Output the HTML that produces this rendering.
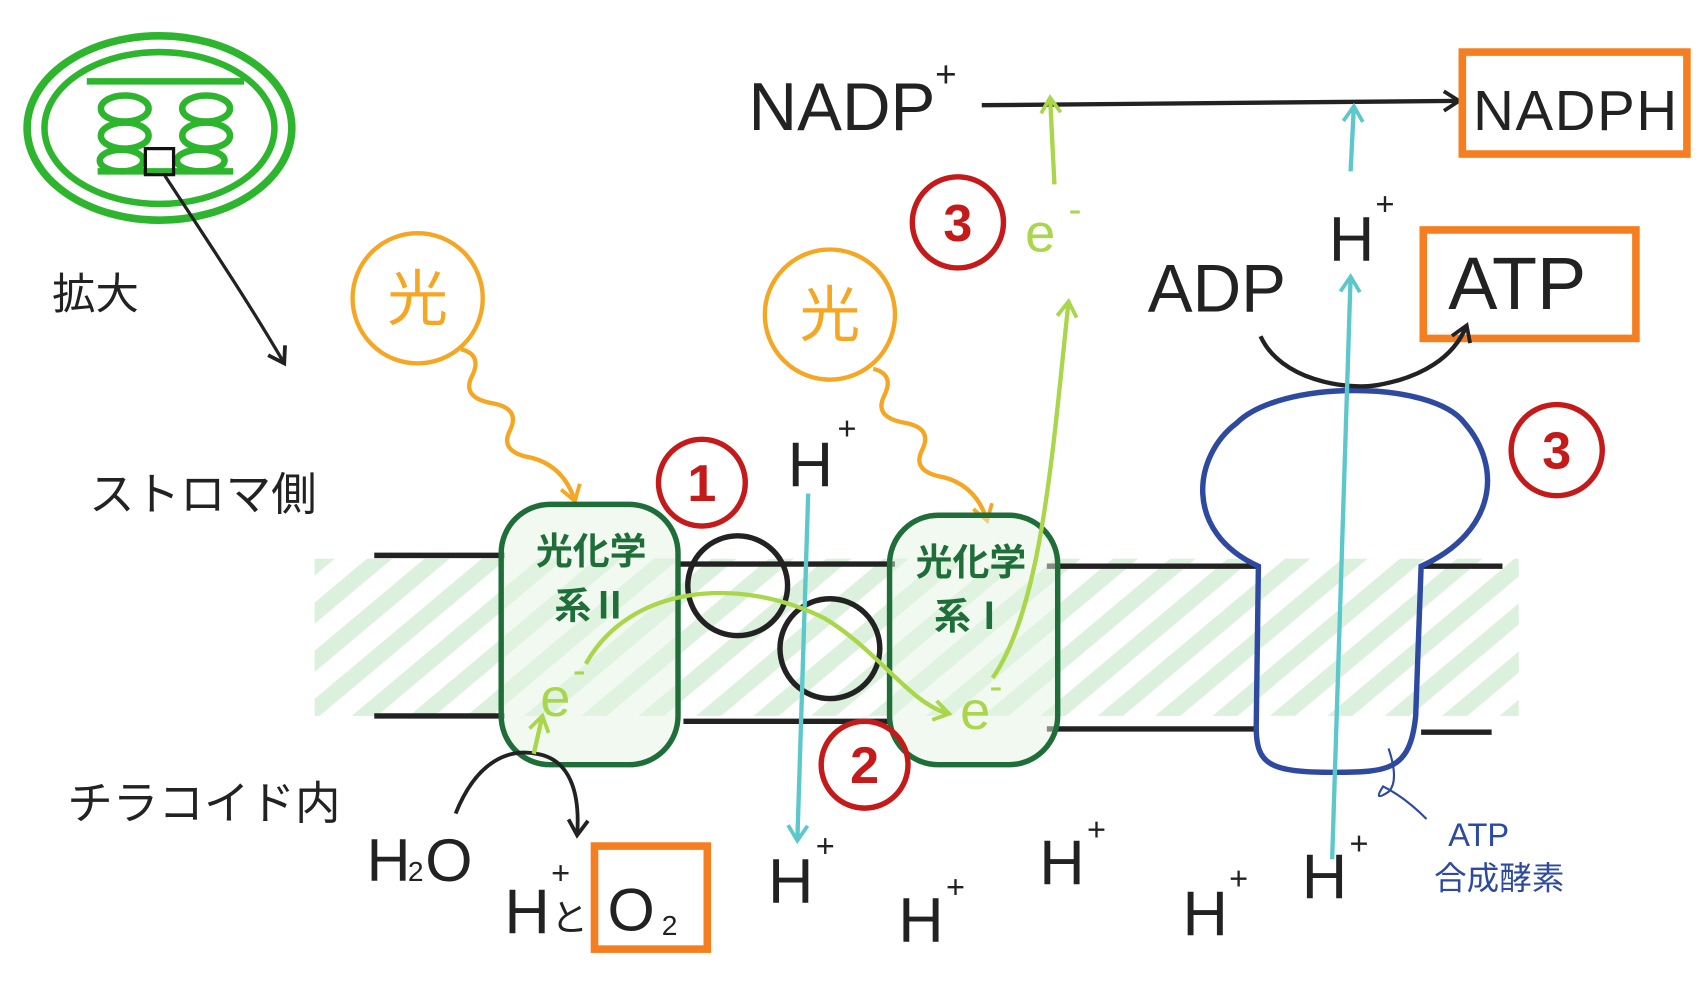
<!DOCTYPE html>
<html><head><meta charset="utf-8"><style>
html,body{margin:0;padding:0;background:#fff;}
svg{display:block}
text{font-family:"Liberation Sans","Noto Sans CJK JP",sans-serif;}
</style></head><body>
<svg width="1701" height="986" viewBox="0 0 1568 909" preserveAspectRatio="none" xmlns="http://www.w3.org/2000/svg">
<defs>
<pattern id="hat" width="34" height="34" patternUnits="userSpaceOnUse" patternTransform="rotate(-40)">
<rect width="34" height="15" fill="#cdebcf"/></pattern>
<marker id="ab" markerUnits="userSpaceOnUse" markerWidth="24" markerHeight="24" refX="18" refY="12" orient="auto"><path d="M4,3 L18,12 L4,21" fill="none" stroke="#222" stroke-width="3.5"/></marker>
<marker id="al" markerUnits="userSpaceOnUse" markerWidth="24" markerHeight="24" refX="18" refY="12" orient="auto"><path d="M4,3 L18,12 L4,21" fill="none" stroke="#a9d64a" stroke-width="3.5"/></marker>
<marker id="ac" markerUnits="userSpaceOnUse" markerWidth="24" markerHeight="24" refX="18" refY="12" orient="auto"><path d="M4,3 L18,12 L4,21" fill="none" stroke="#5cc8cc" stroke-width="3.5"/></marker>
<marker id="ao" markerUnits="userSpaceOnUse" markerWidth="24" markerHeight="24" refX="18" refY="12" orient="auto"><path d="M4,3 L18,12 L4,21" fill="none" stroke="#f5a623" stroke-width="3.5"/></marker>
</defs>
<ellipse cx="147" cy="118" rx="122" ry="85" fill="none" stroke="#2db52d" stroke-width="7"/>
<ellipse cx="147" cy="118" rx="106" ry="70" fill="none" stroke="#2db52d" stroke-width="6"/>
<path d="M80,75 H225 M90,158 H215" stroke="#2db52d" stroke-width="6"/>
<g fill="none" stroke="#2db52d" stroke-width="6">
<ellipse cx="115" cy="100" rx="22" ry="12"/><ellipse cx="115" cy="125" rx="22" ry="12"/><ellipse cx="190" cy="100" rx="22" ry="12"/><ellipse cx="190" cy="125" rx="22" ry="12"/><ellipse cx="185" cy="148" rx="22" ry="10"/><ellipse cx="112" cy="148" rx="20" ry="10"/></g>
<rect x="134" y="137" width="26" height="24" fill="none" stroke="#111" stroke-width="3"/>
<path d="M152,162 C190,220 230,280 262,335" fill="none" stroke="#222" stroke-width="3" marker-end="url(#ab)"/>
<text x="48" y="285" font-size="40" fill="#222">拡大</text>
<text x="82" y="470" font-size="42" fill="#222">ストロマ側</text>
<text x="62" y="755" font-size="42" fill="#222">チラコイド内</text>
<rect x="290" y="515" width="1110" height="145" fill="url(#hat)" opacity="0.7"/>
<g stroke="#222" stroke-width="5">
<path d="M345,512 H465 M625,520 H825 M965,522 H1160 M1310,522 H1385"/>
<path d="M345,660 H465 M630,665 H820 M965,672 H1160 M1310,675 H1375"/></g>
<circle cx="385" cy="275" r="60" fill="none" stroke="#f5a623" stroke-width="4"/>
<text x="385" y="295" font-size="56" fill="#f5a623" text-anchor="middle">光</text>
<circle cx="765" cy="290" r="60" fill="none" stroke="#f5a623" stroke-width="4"/>
<text x="765" y="310" font-size="56" fill="#f5a623" text-anchor="middle">光</text>
<path d="M425,322 q20,5 10,25 q-10,20 20,25 q25,5 15,25 q-10,20 20,25 q30,8 40,40" fill="none" stroke="#f5a623" stroke-width="4" marker-end="url(#ao)"/>
<path d="M805,340 q20,5 10,25 q-10,20 20,25 q25,5 15,25 q-10,20 20,25 q30,8 40,40" fill="none" stroke="#f5a623" stroke-width="4" marker-end="url(#ao)"/>
<rect x="462" y="465" width="163" height="240" rx="45" fill="#e3f3e4" fill-opacity="0.5" stroke="#1f6e3a" stroke-width="5"/>
<text x="545" y="520" font-size="34" fill="#1f6e3a" text-anchor="middle" font-weight="bold">光化学</text>
<text x="545" y="570" font-size="34" fill="#1f6e3a" text-anchor="middle" font-weight="bold">系Ⅱ</text>
<rect x="820" y="475" width="155" height="230" rx="45" fill="#e3f3e4" fill-opacity="0.5" stroke="#1f6e3a" stroke-width="5"/>
<text x="895" y="530" font-size="34" fill="#1f6e3a" text-anchor="middle" font-weight="bold">光化学</text>
<text x="895" y="580" font-size="34" fill="#1f6e3a" text-anchor="middle" font-weight="bold">系Ⅰ</text>
<circle cx="680" cy="540" r="46" fill="none" stroke="#222" stroke-width="5"/>
<circle cx="765" cy="598" r="46" fill="none" stroke="#222" stroke-width="5"/>
<path d="M1160,522 C1090,490 1100,420 1140,390 C1180,350 1320,350 1350,390 C1385,430 1380,490 1310,522 L1305,660 C1300,710 1280,712 1230,712 C1170,712 1158,705 1158,670 Z" fill="none" stroke="#2e4aa0" stroke-width="5"/>
<path d="M1280,690 q10,30 0,40 q-15,10 -5,-5 q20,10 40,30" fill="none" stroke="#2e4aa0" stroke-width="2"/>
<text x="1335" y="780" font-size="30" fill="#2e4aa0">ATP</text>
<text x="1322" y="820" font-size="30" fill="#2e4aa0">合成酵素</text>
<g fill="none" stroke="#c41a1a" stroke-width="5">
<circle cx="647" cy="445" r="40"/><circle cx="797" cy="705" r="40"/><circle cx="883" cy="205" r="42"/><circle cx="1435" cy="415" r="42"/></g>
<g fill="#c41a1a" font-size="48" text-anchor="middle" font-weight="bold">
<text x="647" y="462">1</text><text x="797" y="722">2</text><text x="883" y="222">3</text><text x="1435" y="432">3</text></g>
<text x="690" y="120" font-size="62" fill="#222">NADP</text>
<text x="862" y="80" font-size="34" fill="#222">+</text>
<path d="M905,97 L1345,93" stroke="#222" stroke-width="4" marker-end="url(#ab)"/>
<rect x="1348" y="48" width="207" height="94" fill="none" stroke="#f57f20" stroke-width="7"/>
<text x="1358" y="120" font-size="52" fill="#222" textLength="188">NADPH</text>
<text x="1058" y="287" font-size="62" fill="#222">ADP</text>
<rect x="1312" y="212" width="196" height="100" fill="none" stroke="#f57f20" stroke-width="7"/>
<text x="1335" y="285" font-size="68" fill="#222">ATP</text>
<path d="M1162,310 C1180,350 1240,360 1270,355 C1310,348 1340,330 1352,300" fill="none" stroke="#222" stroke-width="4" marker-end="url(#ab)"/>
<g fill="#222" font-size="58">
<text x="726" y="448">H</text><text x="708" y="832">H</text><text x="828" y="868">H</text><text x="958" y="815">H</text><text x="1090" y="862">H</text><text x="1200" y="828">H</text><text x="1225" y="240">H</text>
<text x="465" y="860">H</text></g>
<g fill="#222" font-size="30">
<text x="772" y="405">+</text><text x="752" y="790">+</text><text x="872" y="828">+</text><text x="1002" y="775">+</text><text x="1133" y="820">+</text><text x="1244" y="788">+</text><text x="1268" y="198">+</text><text x="508" y="815">+</text></g>
<text x="508" y="858" font-size="34" fill="#222">と</text>
<rect x="548" y="780" width="104" height="95" fill="none" stroke="#f57f20" stroke-width="7"/>
<text x="560" y="858" font-size="56" fill="#222">O</text><text x="610" y="862" font-size="26" fill="#222">2</text>
<text x="338" y="812" font-size="56" fill="#222">H</text><text x="376" y="812" font-size="26" fill="#222">2</text><text x="392" y="812" font-size="56" fill="#222">O</text>
<path d="M420,750 C440,700 470,690 495,695 C525,700 535,730 532,770" fill="none" stroke="#222" stroke-width="3.5" marker-end="url(#ab)"/>
<g stroke="#5cc8cc" stroke-width="4" fill="none">
<path d="M745,455 L735,775" marker-end="url(#ac)"/>
<path d="M1228,792 L1245,255" marker-end="url(#ac)"/>
<path d="M1245,158 L1248,98" marker-end="url(#ac)"/></g>
<g fill="#a9d64a" font-size="50">
<text x="498" y="660">e</text><text x="885" y="672">e</text><text x="945" y="232">e</text></g>
<g fill="#a9d64a" font-size="36"><text x="528" y="630">-</text><text x="912" y="645">-</text><text x="985" y="205">-</text></g>
<g stroke="#a9d64a" stroke-width="4" fill="none">
<path d="M540,612 C580,540 680,530 760,570 C810,600 840,650 875,658" marker-end="url(#al)"/>
<path d="M492,695 L500,660" marker-end="url(#al)"/>
<path d="M915,625 C960,560 970,420 985,278" marker-end="url(#al)"/>
<path d="M972,170 L968,90" marker-end="url(#al)"/></g>
</svg>
</body></html>
